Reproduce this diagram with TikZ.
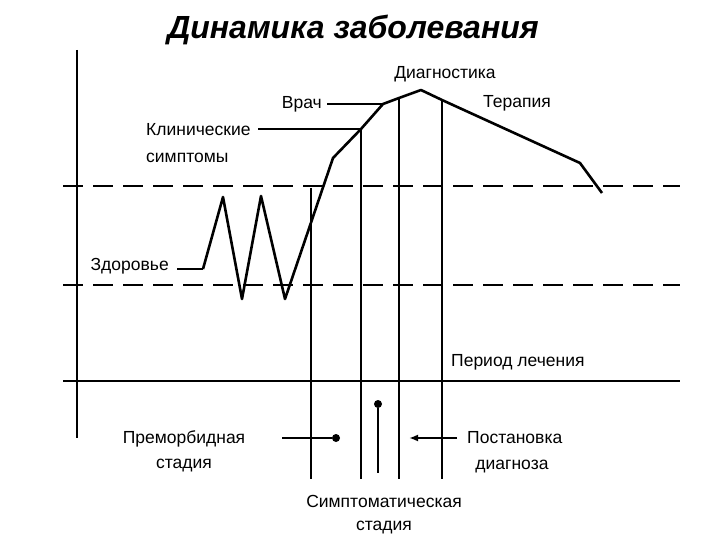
\documentclass[tikz,border=0pt]{standalone}
\usepackage{fontspec}
\setmainfont{Liberation Sans}
\usetikzlibrary{arrows.meta}
\begin{document}
\begin{tikzpicture}[x=1pt,y=-1pt,
  lbl/.style={inner sep=0pt,font=\fontsize{17.5}{20}\selectfont},
  dashline/.style={line width=2.6pt,dash pattern=on 20pt off 10pt},
  vline/.style={line width=1.8pt},
  curve/.style={line width=2.6pt,line join=round},
  leader/.style={line width=2.2pt}]
\useasboundingbox (0,0) rectangle (720,540);
\fill[white] (0,0) rectangle (720,540);
% title
\node[inner sep=0pt,font=\fontsize{32}{36}\selectfont\bfseries\itshape] (title) at (353,30) {Динамика заболевания};
% axis and horizontal lines
\coordinate (axT) at (77,50); \coordinate (axB) at (77,438);
\draw[vline] (axT) -- (axB);
\coordinate (d1L) at (63,186); \coordinate (d1R) at (680,186);
\coordinate (d2L) at (63,285); \coordinate (d2R) at (680,285);
\coordinate (sL) at (63,381); \coordinate (sR) at (680,381);
\draw[dashline] (d1L) -- (d1R);
\draw[dashline] (d2L) -- (d2R);
\draw[line width=2.8pt] (sL) -- (sR);
% curve points
\coordinate (p1) at (203,269);
\coordinate (p2) at (223,197);
\coordinate (p3) at (242,299);
\coordinate (p4) at (261,196);
\coordinate (p5) at (285,299);
\coordinate (p6) at (333,158);
\coordinate (p7) at (361,129);
\coordinate (p8) at (383,104);
\coordinate (p9) at (399,98);
\coordinate (p10) at (421,90);
\coordinate (p11) at (442,100);
\coordinate (p12) at (580,163);
\coordinate (p13) at (602,193);
\draw[curve] (p1) -- (p2) -- (p3) -- (p4) -- (p5) -- (p6) -- (p7) -- (p8) -- (p9) -- (p10) -- (p11) -- (p12) -- (p13);
% vertical lines
\coordinate (v1T) at (311,188); \coordinate (v1B) at (311,479);
\coordinate (v2T) at (361,129); \coordinate (v2B) at (361,479);
\coordinate (v3B) at (399,479);
\coordinate (v4B) at (442,479);
\draw[vline] (v1T) -- (v1B);
\draw[vline] (v2T) -- (v2B);
\draw[vline] (p9) -- (v3B);
\draw[vline] (p11) -- (v4B);
% labels
\node[lbl,anchor=east] (zdor) at (169,266) {Здоровье};
\coordinate (zl) at (177,269);
\draw[leader] (zl) -- (p1);
\node[lbl,anchor=east] (vrach) at (322,104) {Врач};
\coordinate (vl) at (327,104);
\draw[leader] (vl) -- (p8);
\node[lbl,anchor=west] (klin) at (146,130) {Клинические};
\node[lbl,anchor=west] (simp) at (146,158) {симптомы};
\coordinate (kl) at (258,129);
\draw[leader] (kl) -- (p7);
\node[lbl] (diag) at (445,74) {Диагностика};
\node[lbl] (ter) at (517,103) {Терапия};
\node[lbl,anchor=west] (per) at (451,362) {Период лечения};
% bottom labels
\node[lbl] (prem) at (184,439) {Преморбидная};
\node[lbl] (prst) at (184,466) {стадия};
\coordinate (pl) at (282,438);
\node[circle,fill=black,inner sep=0pt,minimum size=8pt] (pdot) at (336,438) {};
\draw[leader] (pl) -- (pdot);
\node[circle,fill=black,inner sep=0pt,minimum size=8pt] (sdot) at (378,404) {};
\coordinate (sdB) at (378,473);
\draw[leader] (sdot) -- (sdB);
\node[lbl,anchor=west] (post) at (467,438) {Постановка};
\node[lbl] (pdiag) at (512,467) {диагноза};
\coordinate (arrS) at (457,438);
\coordinate (arrE) at (409,438);
\draw[leader,-{Latex[length=9pt,width=7pt]}] (arrS) -- (arrE);
\node[lbl] (symp) at (384,501) {Симптоматическая};
\node[lbl] (syst) at (384,528) {стадия};
\end{tikzpicture}
\end{document}
